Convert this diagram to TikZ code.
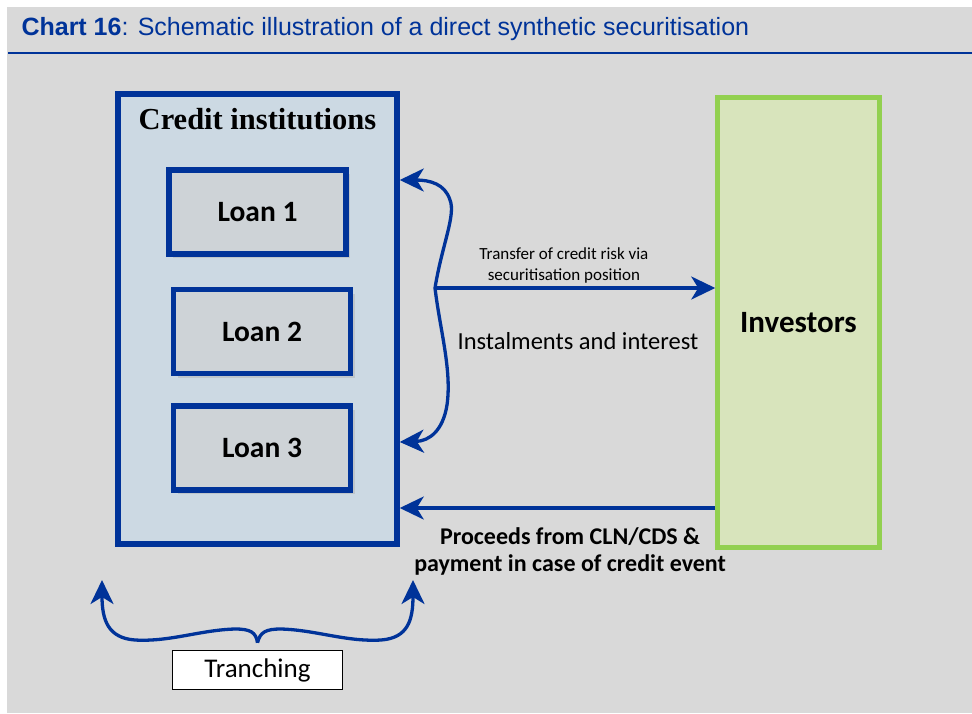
\documentclass[tikz,border=0pt]{standalone}
\usepackage{fontspec}
\setmainfont{Carlito}
\newfontfamily\timesfont{Liberation Serif}
\newfontfamily\arialfont{Liberation Sans}
\usepackage{tikz}
\usetikzlibrary{arrows.meta, positioning, shadows}
\definecolor{ecbblue}{RGB}{0,51,153}
\definecolor{bggray}{RGB}{217,217,217}
\definecolor{cifill}{RGB}{204,217,227}
\definecolor{loanfill}{RGB}{206,211,215}
\definecolor{invfill}{RGB}{216,228,188}
\definecolor{invline}{RGB}{146,208,80}
\tikzset{
    institution/.style={rectangle, draw=ecbblue, line width=5.5pt, fill=cifill, minimum width=279pt, minimum height=450pt},
    loan/.style={rectangle, draw=ecbblue, line width=5.5pt, fill=loanfill, minimum width=177pt, minimum height=84pt, font=\bfseries\fontsize{29.5}{34}\selectfont, drop shadow={shadow xshift=4pt, shadow yshift=-4pt, fill=black!30}},
    investor/.style={rectangle, draw=invline, line width=4.5pt, fill=invfill, minimum width=162pt, minimum height=450pt, font=\bfseries\fontsize{31}{36}\selectfont},
    tranche/.style={rectangle, draw=black, line width=1.5pt, fill=white, minimum width=170pt, minimum height=39pt, font=\fontsize{27}{32}\selectfont},
    flow/.style={-{Stealth[length=24pt, width=23pt, inset=7pt]}, draw=ecbblue, line width=3.3pt}
}

\begin{document}
\begin{tikzpicture}[x=1pt, y=-1pt]
    \useasboundingbox (0,0) rectangle (972,713);
    \fill[bggray] (7,7) rectangle (972,713);
    \node (title) [anchor=west, text=ecbblue, font=\arialfont\fontsize{25}{30}\selectfont] at (18,29) {\textbf{Chart 16}: Schematic illustration of a direct synthetic securitisation};
    \draw[ecbblue, line width=2pt] (8,53) -- (972,53);

    \node (ci) [institution] at (257.5,319) {};
    \node (citext) [below=14pt of ci.north, font=\timesfont\bfseries\fontsize{30.5}{36}\selectfont] {Credit institutions};
    \node (loan1) [loan] at (257.5,212) {Loan 1};
    \node (loan2) [loan, below=30pt of loan1, xshift=4.5pt] {Loan 2};
    \node (loan3) [loan, below=27pt of loan2] {Loan 3};
    \node (inv) [investor] at (798.5,322.5) {Investors};

    \coordinate (fork) at (435,288);
    \coordinate (citop) at (ci.east |- 0,180);
    \coordinate (cibot) at (ci.east |- 0,442);
    \coordinate (invpay) at (inv.west |- 0,508);

    \draw[flow] (fork) -- (fork -| inv.west)
        node[pos=0.46, above, align=center, font=\fontsize{17}{20.5}\selectfont] {Transfer of credit risk via\\securitisation position}
        node[pos=0.51, below=39pt, font=\fontsize{24.5}{28}\selectfont] {Instalments and interest};
    % brace back to the credit institutions
    \draw[flow] (fork) .. controls (442,245) and (456,215) .. (450,200) .. controls (445,184) and (430,180) .. (citop);
    \draw[flow] (fork) .. controls (440,330) and (452,370) .. (447,405) .. controls (443,430) and (430,441) .. (cibot);
    \draw[flow] (invpay) -- (invpay -| ci.east)
        node[pos=0.46, below=15pt, align=center, font=\bfseries\fontsize{24}{27}\selectfont] {Proceeds from CLN/CDS \&\\payment in case of credit event};

    \node (tr) [tranche] at (257.5,670) {Tranching};
    \coordinate (cusp) at ([yshift=7pt]tr.north);
    \draw[flow] (cusp) .. controls (256,632) and (250,629) .. (235,629) .. controls (200,630) and (170,642) .. (135,640) .. controls (108,638) and (102,620) .. (102,580);
    \draw[flow] (cusp) .. controls (260,632) and (266,629) .. (281,629) .. controls (316,630) and (346,642) .. (381,640) .. controls (408,638) and (413,620) .. (413,580);
\end{tikzpicture}
\end{document}
